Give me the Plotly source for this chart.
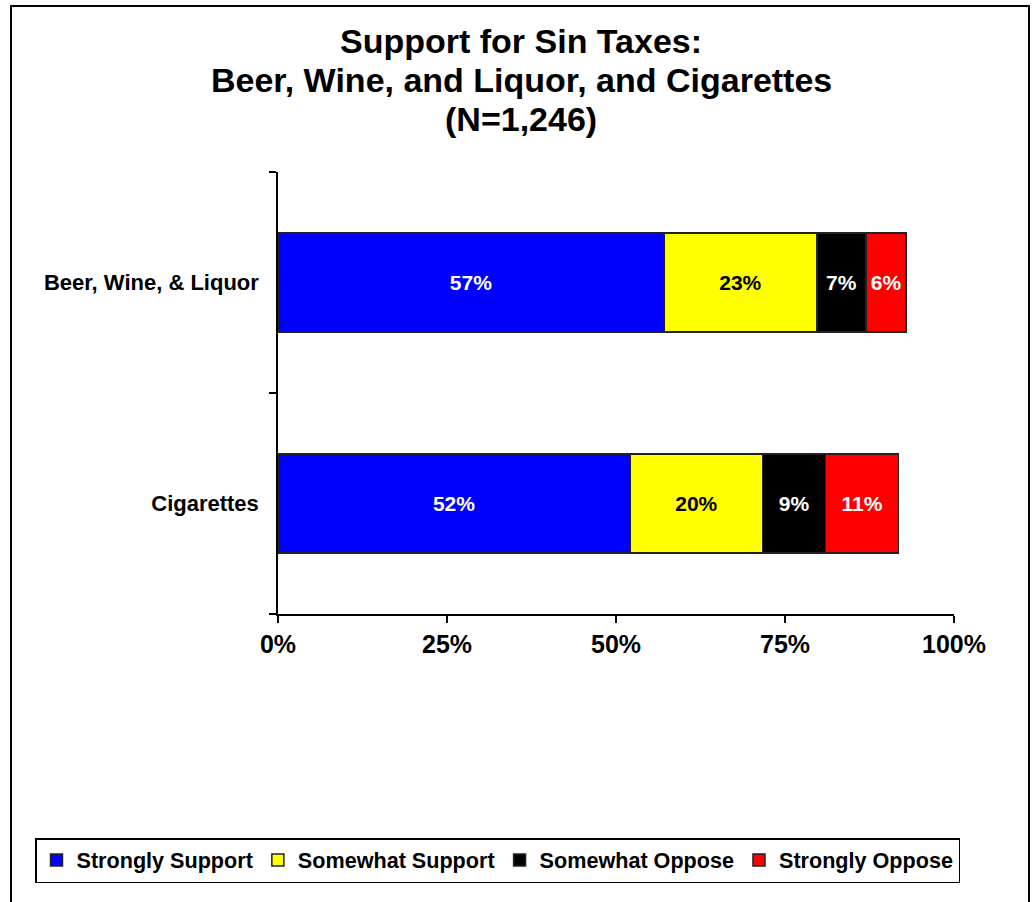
import plotly.graph_objects as go

categories = ["Beer, Wine, & Liquor", "Cigarettes"]
series_names = ["Strongly Support", "Somewhat Support", "Somewhat Oppose", "Strongly Oppose"]
strongly_support = [57.1, 52.1]
somewhat_support = [22.6, 19.6]
somewhat_oppose = [7.3, 9.3]
strongly_oppose = [5.9, 10.8]
series_values = [strongly_support, somewhat_support, somewhat_oppose, strongly_oppose]
colors = ["#0000FF", "#FFFF00", "#000000", "#FF0000"]
text_colors = ["white", "black", "white", "white"]
x_ticks = [0, 25, 50, 75, 100]
title_lines = ["Support for Sin Taxes:", "Beer, Wine, and Liquor, and Cigarettes", "(N=1,246)"]

FONT = "Liberation Sans, Arial, sans-serif"

fig = go.Figure()
for name, vals, col, tcol in zip(series_names, series_values, colors, text_colors):
    fig.add_trace(go.Bar(
        y=categories, x=vals, name=name, orientation="h",
        marker=dict(color=col, line=dict(color="#222222", width=1.5)),
        text=[f"{round(v)}%" for v in vals],
        textposition="inside", insidetextanchor="middle", constraintext="none",
        textfont=dict(color=tcol, size=21, family=FONT, weight="bold"),
        width=0.45,
    ))

L, R, T, B = 278, 954, 172, 614
W, H = 1033, 902
pw, ph = R - L, B - T

def px(x):
    return (x - L) / pw

def py(y):
    return (B - y) / ph

title_y = [41, 80, 119]
annotations = [
    dict(text=t, xref="paper", yref="paper", x=px(521), y=py(yy),
         xanchor="center", yanchor="middle", showarrow=False,
         font=dict(size=34, family=FONT, weight="bold", color="black"))
    for t, yy in zip(title_lines, title_y)
]

fig.update_layout(
    barmode="stack",
    width=W, height=H,
    margin=dict(l=L, r=W - R, t=T, b=H - B),
    paper_bgcolor="white", plot_bgcolor="white",
    font=dict(family=FONT, color="black"),
    showlegend=True,
    annotations=annotations,
    legend=dict(
        orientation="h", x=px(35), xanchor="left", y=py(838), yanchor="top",
        bordercolor="black", borderwidth=1.5, bgcolor="white",
        font=dict(size=21.6, family=FONT, weight="bold"),
        traceorder="normal", itemwidth=30,
    ),
    xaxis=dict(
        range=[0, 100], tickmode="array", tickvals=x_ticks,
        ticktext=[f"{t}%" for t in x_ticks],
        ticks="outside", ticklen=7, tickwidth=1.5, tickcolor="black",
        showline=True, linecolor="black", linewidth=1.5,
        showgrid=False, zeroline=False,
        tickfont=dict(size=25, family=FONT, weight="bold"),
    ),
    yaxis=dict(
        type="category", categoryorder="array", categoryarray=categories[::-1],
        tickson="boundaries",
        ticks="outside", ticklen=7, tickwidth=1.5, tickcolor="black",
        showline=True, linecolor="black", linewidth=1.5,
        showgrid=False, zeroline=False,
        tickfont=dict(size=22, family=FONT, weight="bold"),
        ticklabelstandoff=13,
    ),
    shapes=[
        dict(type="rect", xref="paper", yref="paper",
             x0=px(11), x1=px(1029), y0=py(6), y1=py(905),
             line=dict(color="black", width=2), fillcolor="rgba(0,0,0,0)", layer="below"),
        dict(type="line", xref="paper", yref="paper",
             x0=px(271), x1=0, y0=0, y1=0,
             line=dict(color="black", width=1.5)),
    ],
)

fig.write_html("out.html", config={"displayModeBar": False},
               post_script="document.body.style.margin='0';document.body.style.overflow='hidden';")
